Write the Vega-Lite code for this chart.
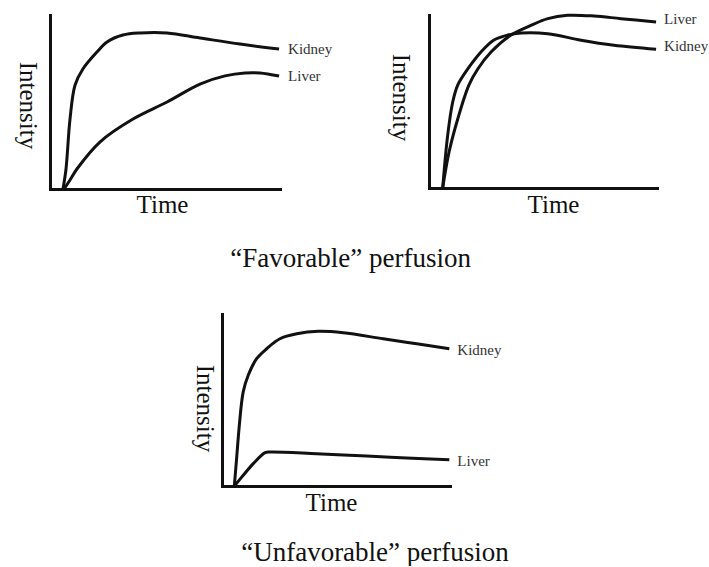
{
  "$schema": "https://vega.github.io/schema/vega-lite/v6.json",
  "background": "white",
  "autosize": {"type": "pad"},
  "padding": {"left": 14, "top": 9, "right": 0, "bottom": 0},
  "datasets": {
    "fav1": [
      {"organ": "Kidney", "t": 5.65, "v": 0}, {"organ": "Kidney", "t": 6.96, "v": 11.5}, {"organ": "Kidney", "t": 8.7, "v": 40.2},
      {"organ": "Kidney", "t": 10.9, "v": 59.8}, {"organ": "Kidney", "t": 14.3, "v": 69}, {"organ": "Kidney", "t": 20.4, "v": 78.7},
      {"organ": "Kidney", "t": 24.8, "v": 84.5}, {"organ": "Kidney", "t": 31.7, "v": 88.5}, {"organ": "Kidney", "t": 39.1, "v": 89.7},
      {"organ": "Kidney", "t": 50.9, "v": 89.7}, {"organ": "Kidney", "t": 65.2, "v": 86.8}, {"organ": "Kidney", "t": 82.6, "v": 83.3},
      {"organ": "Kidney", "t": 99.6, "v": 80.5},
      {"organ": "Liver", "t": 6.1, "v": 0}, {"organ": "Liver", "t": 8.7, "v": 5.2}, {"organ": "Liver", "t": 11.7, "v": 11.5},
      {"organ": "Liver", "t": 21.7, "v": 27}, {"organ": "Liver", "t": 36.1, "v": 40.2}, {"organ": "Liver", "t": 50.9, "v": 50},
      {"organ": "Liver", "t": 65.2, "v": 60.3}, {"organ": "Liver", "t": 76.1, "v": 65}, {"organ": "Liver", "t": 84.8, "v": 66.7},
      {"organ": "Liver", "t": 91.3, "v": 66.7}, {"organ": "Liver", "t": 99.6, "v": 64.9}
    ],
    "fav2": [
      {"organ": "Kidney", "t": 6.0, "v": 0}, {"organ": "Kidney", "t": 8.2, "v": 30.6}, {"organ": "Kidney", "t": 10.4, "v": 49.7},
      {"organ": "Kidney", "t": 12.6, "v": 59.5}, {"organ": "Kidney", "t": 17.0, "v": 68.8}, {"organ": "Kidney", "t": 22.8, "v": 78.6},
      {"organ": "Kidney", "t": 28.5, "v": 85.5}, {"organ": "Kidney", "t": 34.5, "v": 88.4}, {"organ": "Kidney", "t": 40.4, "v": 89.6},
      {"organ": "Kidney", "t": 52.1, "v": 89.2}, {"organ": "Kidney", "t": 66.7, "v": 85.4}, {"organ": "Kidney", "t": 81.1, "v": 82.5},
      {"organ": "Kidney", "t": 99.6, "v": 80.2},
      {"organ": "Liver", "t": 6.0, "v": 0}, {"organ": "Liver", "t": 8.8, "v": 20.8}, {"organ": "Liver", "t": 12.6, "v": 39.9},
      {"organ": "Liver", "t": 17.5, "v": 59.5}, {"organ": "Liver", "t": 21.4, "v": 68.8}, {"organ": "Liver", "t": 27.2, "v": 78.6},
      {"organ": "Liver", "t": 36.0, "v": 88.4}, {"organ": "Liver", "t": 44.7, "v": 94}, {"organ": "Liver", "t": 52.1, "v": 97.9},
      {"organ": "Liver", "t": 60.8, "v": 99.8}, {"organ": "Liver", "t": 72.4, "v": 99.4}, {"organ": "Liver", "t": 84.2, "v": 97.9},
      {"organ": "Liver", "t": 99.6, "v": 96}
    ],
    "unfav": [
      {"organ": "Kidney", "t": 5.4, "v": 0}, {"organ": "Kidney", "t": 6.4, "v": 15.9}, {"organ": "Kidney", "t": 7.6, "v": 35.3},
      {"organ": "Kidney", "t": 9.3, "v": 54.7}, {"organ": "Kidney", "t": 11.5, "v": 64.4}, {"organ": "Kidney", "t": 15.2, "v": 74},
      {"organ": "Kidney", "t": 19.6, "v": 79.8}, {"organ": "Kidney", "t": 25.4, "v": 85.6}, {"organ": "Kidney", "t": 32.8, "v": 88.5},
      {"organ": "Kidney", "t": 42.2, "v": 89.9}, {"organ": "Kidney", "t": 53.2, "v": 89.1}, {"organ": "Kidney", "t": 70.7, "v": 85.6},
      {"organ": "Kidney", "t": 85.4, "v": 82.7}, {"organ": "Kidney", "t": 99.7, "v": 79.8},
      {"organ": "Liver", "t": 5.4, "v": 0}, {"organ": "Liver", "t": 9.3, "v": 6.2}, {"organ": "Liver", "t": 13.7, "v": 13},
      {"organ": "Liver", "t": 18.9, "v": 19.4}, {"organ": "Liver", "t": 21.1, "v": 19.8}, {"organ": "Liver", "t": 41.5, "v": 18.8},
      {"organ": "Liver", "t": 63.5, "v": 17.4}, {"organ": "Liver", "t": 81, "v": 16.3}, {"organ": "Liver", "t": 99.7, "v": 15.3}
    ]
  },
  "config": {
    "view": {"stroke": null},
    "font": "Liberation Serif",
    "axis": {
      "domainColor": "#111", "domainWidth": 3, "domainCap": "square",
      "ticks": false, "labels": false, "grid": false,
      "titleFont": "Liberation Serif", "titleFontSize": 25, "titleFontWeight": "normal", "titleColor": "#111"
    },
    "axisY": {"titleAngle": 90, "titleBaseline": "top", "titleAlign": "center"},
    "axisX": {"titleBaseline": "top", "titleAlign": "center"},
    "title": {"font": "Liberation Serif", "fontSize": 27, "fontWeight": "normal", "color": "#111"},
    "line": {"color": "#111", "strokeWidth": 3}
  },
  "vconcat": [
    {
      "hconcat": [
        {
          "width": 230, "height": 174,
          "data": {"name": "fav1"},
          "encoding": {
            "x": {"field": "t", "type": "quantitative", "scale": {"domain": [0, 100], "nice": false},
                  "axis": {"title": "Time", "titleX": 112, "titleY": 3}},
            "y": {"field": "v", "type": "quantitative", "scale": {"domain": [0, 100], "nice": false},
                  "axis": {"title": "Intensity", "titleX": -11, "titleY": 90}}
          },
          "layer": [
            {"mark": {"type": "line", "interpolate": "catmull-rom", "clip": false}, "encoding": {"detail": {"field": "organ"}}},
            {
              "transform": [
                {"joinaggregate": [{"op": "max", "field": "t", "as": "tmax"}], "groupby": ["organ"]},
                {"filter": "datum.t === datum.tmax"}
              ],
              "mark": {"type": "text", "align": "left", "baseline": "middle", "dx": 9, "dy": 0, "font": "Liberation Serif", "fontSize": 15, "color": "#333"},
              "encoding": {"text": {"field": "organ"}}
            }
          ]
        },
        {
          "width": 228, "height": 173,
          "data": {"name": "fav2"},
          "encoding": {
            "x": {"field": "t", "type": "quantitative", "scale": {"domain": [0, 100], "nice": false},
                  "axis": {"title": "Time", "titleX": 124, "titleY": 4}},
            "y": {"field": "v", "type": "quantitative", "scale": {"domain": [0, 100], "nice": false},
                  "axis": {"title": "Intensity", "titleX": -16.5, "titleY": 82}}
          },
          "layer": [
            {"mark": {"type": "line", "interpolate": "catmull-rom", "clip": false}, "encoding": {"detail": {"field": "organ"}}},
            {
              "transform": [
                {"joinaggregate": [{"op": "max", "field": "t", "as": "tmax"}], "groupby": ["organ"]},
                {"filter": "datum.t === datum.tmax"}
              ],
              "mark": {"type": "text", "align": "left", "baseline": "middle", "dx": 8, "dy": -3, "font": "Liberation Serif", "fontSize": 15, "color": "#333"},
              "encoding": {"text": {"field": "organ"}}
            }
          ]
        }
      ],
      "spacing": 54,
      "title": {"text": "“Favorable” perfusion", "orient": "bottom", "anchor": "middle", "frame": "bounds", "dx": -10.5, "offset": 29}
    },
    {
      "hconcat": [
        {"width": 121, "height": 1, "data": {"values": []}, "mark": "point"},
        {
          "width": 228, "height": 172,
          "data": {"name": "unfav"},
          "title": {"text": "“Unfavorable” perfusion", "orient": "bottom", "anchor": "middle", "frame": "bounds", "dx": 28.5, "offset": 25},
          "encoding": {
            "x": {"field": "t", "type": "quantitative", "scale": {"domain": [0, 100], "nice": false},
                  "axis": {"title": "Time", "titleX": 109, "titleY": 4}},
            "y": {"field": "v", "type": "quantitative", "scale": {"domain": [0, 100], "nice": false},
                  "axis": {"title": "Intensity", "titleX": -5.5, "titleY": 94}}
          },
          "layer": [
            {"mark": {"type": "line", "interpolate": "catmull-rom", "clip": false}, "encoding": {"detail": {"field": "organ"}}},
            {
              "transform": [
                {"joinaggregate": [{"op": "max", "field": "t", "as": "tmax"}], "groupby": ["organ"]},
                {"filter": "datum.t === datum.tmax"}
              ],
              "mark": {"type": "text", "align": "left", "baseline": "middle", "dx": 8, "dy": 1, "font": "Liberation Serif", "fontSize": 15, "color": "#333"},
              "encoding": {"text": {"field": "organ"}}
            }
          ]
        }
      ],
      "spacing": 20
    }
  ],
  "spacing": 42
}
